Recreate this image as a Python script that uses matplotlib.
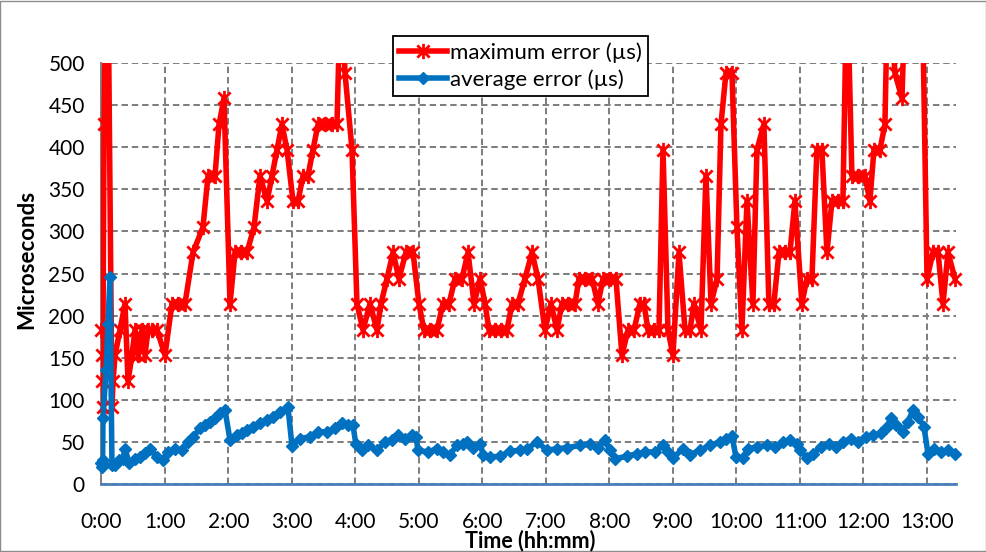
import numpy as np
import matplotlib
matplotlib.use("Agg")
import matplotlib.pyplot as plt
from matplotlib.path import Path
from matplotlib.lines import Line2D
from matplotlib.patches import Rectangle

# ---------------- data (time in minutes since start, values in microseconds) -------------
max_time_min = [0, 0.3, 0.6, 1.0, 2.4, 4.3, 6.1, 9.9, 10.9, 12.8,
                17.5, 22.2, 25.1, 28.8, 31.7, 34.5, 38.3, 41.1, 44.0, 47.7,
                52.5, 60.0, 66.6, 72.3, 78.9, 86.5, 95.9, 100.7, 107.3, 111.1,
                115.8, 121.5, 126.2, 131.9, 137.5, 144.2, 149.8, 156.5, 161.2, 165.9,
                170.6, 175.4, 181.0, 185.8, 190.5, 195.2, 199.9, 204.7, 211.3, 217.9,
                222.6, 226.4, 230.2, 236.8, 241.5, 247.2, 253.8, 260.4, 264.2, 269.9,
                275.6, 281.2, 287.8, 294.5, 300.1, 304.8, 310.5, 317.1, 322.8, 328.5,
                334.2, 340.8, 346.5, 352.2, 357.9, 362.6, 366.3, 372.0, 377.7, 383.3,
                388.1, 393.7, 400.3, 407.0, 412.6, 419.2, 424.9, 430.6, 435.3, 441.0,
                447.6, 451.4, 457.1, 463.7, 469.3, 474.1, 480.7, 486.3, 492.0, 497.7,
                503.4, 509.0, 512.8, 516.6, 522.3, 527.0, 530.8, 535.5, 540.2, 545.9,
                551.6, 556.3, 560.1, 566.7, 571.4, 576.2, 581.9, 585.6, 590.3, 596.0,
                600.7, 605.4, 610.2, 615.8, 619.6, 626.2, 630.9, 635.6, 640.4, 646.1,
                650.8, 655.5, 662.1, 666.8, 671.6, 676.3, 681.0, 685.8, 690.5, 696.2,
                700.9, 704.7, 709.4, 715.1, 721.7, 726.4, 730.2, 735.9, 740.6, 743.5,
                750.1, 756.7, 760.5, 768.1, 775.6, 780.4, 786.0, 790.8, 795.5, 800.2,
                806.8]
max_error_us = [183, 153, 122, 92, 427, 610, 610, 92, 122, 153,
                183, 214, 122, 153, 183, 153, 183, 153, 183, 183,
                183, 153, 214, 214, 214, 275, 305, 366, 366, 427,
                458, 214, 275, 275, 275, 305, 366, 336, 366, 397,
                427, 397, 336, 336, 366, 366, 397, 427, 427, 427,
                427, 610, 488, 397, 214, 183, 214, 183, 214, 244,
                275, 244, 275, 275, 214, 183, 183, 183, 214, 214,
                244, 244, 275, 214, 244, 214, 183, 183, 183, 183,
                214, 214, 244, 275, 244, 183, 214, 183, 214, 214,
                214, 244, 244, 244, 214, 244, 244, 244, 153, 183,
                183, 214, 214, 183, 183, 183, 397, 183, 153, 275,
                183, 183, 214, 183, 366, 214, 244, 427, 488, 488,
                305, 183, 336, 214, 397, 427, 214, 214, 275, 275,
                275, 336, 214, 244, 244, 397, 397, 275, 336, 336,
                336, 610, 366, 366, 366, 336, 397, 397, 427, 610,
                488, 458, 610, 610, 610, 244, 275, 275, 214, 275,
                244]

avg_time_min = [0, 0.5, 1.0, 1.4, 4.3, 6.1, 8.0, 9.9, 12.8, 16.5,
                20.3, 22.2, 26.0, 31.7, 36.4, 41.1, 45.8, 52.5, 58.1, 62.9,
                69.5, 76.1, 81.8, 86.5, 93.1, 97.8, 102.6, 107.3, 112.0, 116.7,
                121.5, 128.1, 132.8, 137.5, 143.2, 149.8, 156.5, 162.1, 168.8, 176.3,
                180.1, 187.6, 197.1, 204.7, 213.2, 220.7, 227.3, 233.0, 237.7, 240.5,
                246.2, 251.9, 260.4, 267.9, 274.6, 280.3, 286.9, 293.5, 297.3, 299.2,
                308.6, 317.1, 322.8, 329.4, 336.0, 341.7, 345.6, 351.2, 357.9, 360.7,
                367.3, 376.7, 386.2, 395.7, 402.3, 411.8, 421.2, 430.6, 440.1, 452.4,
                461.8, 469.3, 475.9, 480.7, 485.4, 496.7, 506.2, 513.8, 523.2, 530.8,
                535.5, 540.2, 549.7, 556.3, 565.8, 575.2, 584.7, 590.3, 596.0, 599.8,
                606.4, 611.1, 619.6, 629.1, 636.6, 644.2, 650.8, 657.5, 660.3, 666.9,
                672.6, 680.1, 687.7, 694.3, 700.9, 708.5, 715.1, 722.7, 729.3, 736.9,
                741.6, 746.3, 751.1, 757.7, 762.4, 767.2, 771.9, 777.5, 781.3, 786.9,
                793.6, 800.2, 807.0]
avg_error_us = [25, 20, 28, 78, 135, 190, 246, 22, 22, 28,
                30, 42, 25, 30, 32, 37, 42, 32, 28, 38,
                42, 40, 50, 56, 66, 70, 74, 78, 84, 88,
                52, 58, 60, 64, 68, 72, 76, 80, 86, 91,
                45, 54, 56, 62, 62, 66, 72, 70, 70, 47,
                40, 46, 40, 50, 52, 58, 54, 58, 56, 40,
                38, 42, 38, 35, 46, 48, 50, 43, 48, 35,
                32, 33, 39, 40, 42, 50, 40, 42, 43, 46,
                47, 43, 52, 40, 30, 33, 36, 38, 38, 46,
                38, 31, 42, 35, 40, 46, 50, 54, 57, 32,
                31, 42, 44, 46, 44, 50, 52, 48, 40, 31,
                36, 44, 48, 44, 50, 54, 50, 56, 58, 60,
                66, 78, 70, 62, 74, 88, 80, 68, 36, 42,
                38, 40, 36]

x_tick_min = [0, 60, 120, 180, 240, 300, 360, 420, 480, 540, 600, 660, 720, 780]
x_tick_labels = ["0:00", "1:00", "2:00", "3:00", "4:00", "5:00", "6:00", "7:00",
                 "8:00", "9:00", "10:00", "11:00", "12:00", "13:00"]
y_ticks = [0, 50, 100, 150, 200, 250, 300, 350, 400, 450, 500]

series_names = ["maximum error (\u00b5s)", "average error (\u00b5s)"]

# ---------------- style -------------
plt.rcParams['font.family'] = ['Lato', 'DejaVu Sans']
RED = "#FF0000"
BLUE = "#0070C0"
GRID = "#7F7F7F"
FS = 15
LW = 4.0

W, H = 987, 552
fig = plt.figure(figsize=(W / 100, H / 100), dpi=100)
fig.patch.set_facecolor("white")

x_max = 808
ax_left_px, ax_top_px, ax_bottom_px = 101.5, 63, 484
ax_w_px = x_max * 63.47 / 60
ax = fig.add_axes([ax_left_px / W, 1 - ax_bottom_px / H, ax_w_px / W,
                   (ax_bottom_px - ax_top_px) / H])

star = Path([(-1, -1), (1, 1), (-1, 1), (1, -1), (0, -1.25), (0, 1.25)],
            [Path.MOVETO, Path.LINETO, Path.MOVETO, Path.LINETO, Path.MOVETO, Path.LINETO])

mt = np.array(max_time_min)
mv = np.array(max_error_us, dtype=float)
at = np.array(avg_time_min)
av = np.array(avg_error_us, dtype=float)

ax.plot(mt, mv, color=RED, lw=LW, solid_joinstyle="round", zorder=3)
ax.plot(mt, np.where(mv > 500, np.nan, mv), linestyle="none", marker=star,
        markersize=11, markeredgewidth=2.0, color=RED, clip_on=False, zorder=4)
ax.plot(at, av, color=BLUE, lw=LW, solid_joinstyle="round", zorder=5)
ax.plot(at, av, linestyle="none", marker="D", markersize=6.5, color=BLUE,
        markeredgecolor=BLUE, clip_on=False, zorder=6)

ax.set_xlim(0, x_max)
ax.set_ylim(0, 500)
ax.set_xticks(x_tick_min)
ax.set_xticklabels(x_tick_labels)
ax.set_yticks(y_ticks)
ax.tick_params(axis="both", length=0, labelsize=FS, colors="black")
ax.tick_params(axis="x", pad=20)
ax.tick_params(axis="y", pad=12)

ax.grid(True, color=GRID, linestyle=(0, (3.2, 1.9)), linewidth=1.45, zorder=1)
ax.set_axisbelow(True)
for s in ("top", "right"):
    ax.spines[s].set_visible(False)
ax.spines["left"].set_color(GRID)
ax.spines["left"].set_linewidth(1.4)
ax.spines["bottom"].set_color("#4A7EBB")
ax.spines["bottom"].set_linewidth(2.0)

fig.text(27 / W, 1 - 259 / H, "Microseconds", rotation=90, ha="center", va="center",
         fontsize=16, fontweight="bold")
fig.text(530 / W, 1 - 541 / H, "Time (hh:mm)", ha="center", va="center",
         fontsize=15.5, fontweight="bold")

handles = [
    Line2D([], [], color=RED, lw=LW, marker=star, markersize=11, markeredgewidth=2.0),
    Line2D([], [], color=BLUE, lw=LW, marker="D", markersize=6.5),
]
leg = fig.legend(handles, series_names, loc="upper left",
                 bbox_to_anchor=(393 / W, 1 - 36 / H), bbox_transform=fig.transFigure,
                 prop={"size": 16}, frameon=True, fancybox=False, shadow=False, framealpha=1,
                 edgecolor="black", borderpad=0.28, labelspacing=0.28, handlelength=2.15,
                 handletextpad=0.15, borderaxespad=0, markerscale=1.0)
leg.get_frame().set_linewidth(1.3)
leg.set_zorder(10)

fig.add_artist(Rectangle((0.0005, 0.001), 0.998, 0.998, transform=fig.transFigure,
                         fill=False, edgecolor="#8c8c8c", linewidth=1.0))

fig.savefig("out.png", dpi=100, facecolor="white")
